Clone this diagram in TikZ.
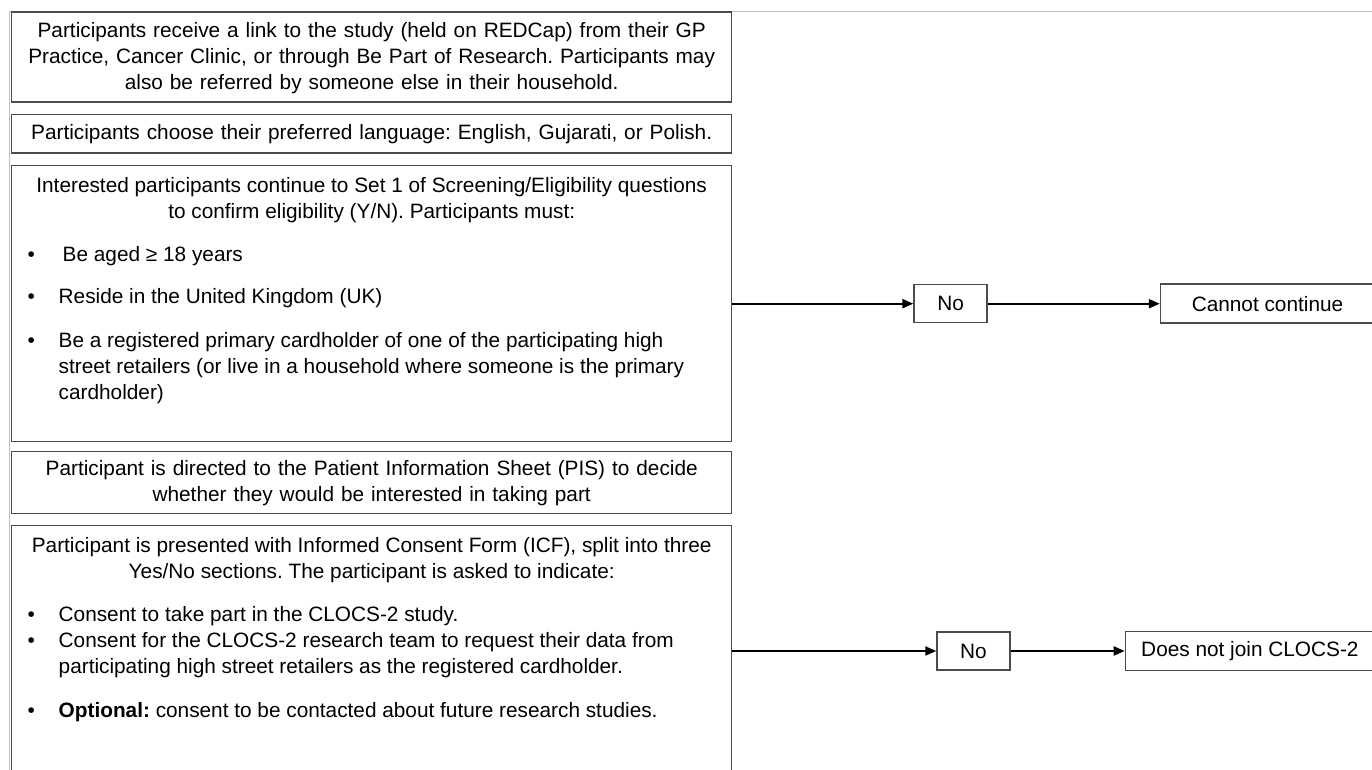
\documentclass[tikz,border=0pt]{standalone}
\usepackage{fontspec}
\setmainfont{Liberation Sans}
\usetikzlibrary{arrows.meta}
\usetikzlibrary{positioning}
\frenchspacing

\newcommand{\itm}[1][15.5pt]{\hspace*{6pt}\makebox[#1][l]{\textbullet}}
\newcommand{\cont}{\hspace*{21.5pt}}

\begin{document}
\begin{tikzpicture}[x=0.5pt, y=-0.5pt, >={Triangle[length=5.5pt,width=4.5pt]},
    box/.style={draw=black!70, line width=0.7pt, inner xsep=2pt, inner ysep=0pt,
      font=\fontsize{10.4}{13}\selectfont},
    wide/.style={box, anchor=north west, text width=356pt, align=center},
    small/.style={box, minimum width=36.5pt, minimum height=19pt},
    outcome/.style={box, minimum height=19.5pt},
    link/.style={->, line width=1pt}]
        \useasboundingbox (0,0) rectangle (1372,770);
        \draw[black!25, line width=0.4pt] (9,770) -- (9,11.5) -- (1372,11.5);

        \node[wide, minimum height=45pt] (invite) at (11,11.5)
          {\rule{0pt}{8.5pt}Participants receive a link to the study (held on REDCap) from their GP\\
           Practice, Cancer Clinic, or through Be Part of Research. Participants may\\
           also be referred by someone else in their household.};
        \node[wide, minimum height=19.25pt] (language) at (11,114)
          {Participants choose their preferred language: English, Gujarati, or Polish.};
        \node[box, anchor=north west] (elig) at (11,165)
          {\parbox[t][138pt][t]{356pt}{\centering\rule{0pt}{13.2pt}Interested participants continue to Set 1 of Screening/Eligibility questions\\
           to confirm eligibility (Y/N). Participants must:\par
           \raggedright\vspace{8.5pt}
           \itm[17.5pt]Be aged ≥ 18 years\par\vspace{8pt}
           \itm Reside in the United Kingdom (UK)\par\vspace{9pt}
           \itm Be a registered primary cardholder of one of the participating high\\
           \cont street retailers (or live in a household where someone is the primary\\
           \cont cardholder)}};
        \node[wide, minimum height=31pt] (pis) at (11,451)
          {Participant is directed to the Patient Information Sheet (PIS) to decide\\
           whether they would be interested in taking part};
        \node[box, anchor=north west] (consent) at (11,525)
          {\parbox[t][150pt][t]{356pt}{\centering\rule{0pt}{13.3pt}Participant is presented with Informed Consent Form (ICF), split into three\\
           Yes/No sections. The participant is asked to indicate:\par
           \raggedright\vspace{8.5pt}
           \itm Consent to take part in the CLOCS-2 study.\par
           \itm Consent for the CLOCS-2 research team to request their data from\\
           \cont participating high street retailers as the registered cardholder.\par\vspace{9pt}
           \itm\textbf{Optional:} consent to be contacted about future research studies.}};

        \node[small, right=90.5pt of elig.east] (no1) {No};
        \node[outcome, minimum width=107pt, right=86pt of no1] (cannot) {Cannot continue};
        \node[small] (no2) at (973.5,651) {No};
        \node[outcome, minimum width=124.5pt, right=57pt of no2] (nojoin) {Does not join CLOCS-2};

        \draw[link] (elig) -- (no1);
        \draw[link] (no1) -- (cannot);
        \draw[link] (consent.east |- no2) -- (no2);
        \draw[link] (no2) -- (nojoin);
      \end{tikzpicture}
\end{document}
